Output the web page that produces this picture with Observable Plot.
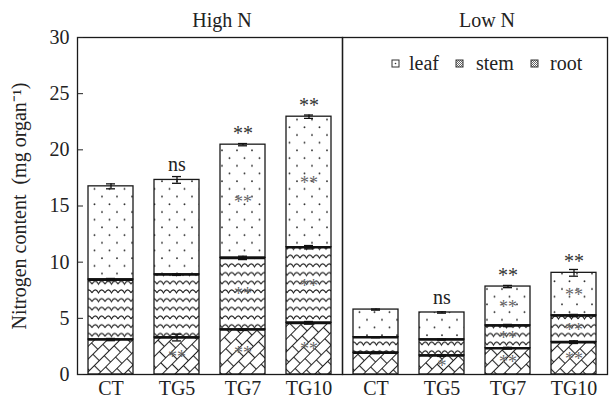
<!DOCTYPE html>
<html>
<head>
<meta charset="utf-8">
<script src="https://cdn.jsdelivr.net/npm/d3@7"></script>
<script src="https://cdn.jsdelivr.net/npm/@observablehq/plot@0.6"></script>
<style>
  body { margin: 0; background: #fff; }
  #wrap { position: relative; width: 610px; height: 401px; overflow: hidden; }
  #defs { position: absolute; width: 0; height: 0; }
  #legend { position: absolute; left: 0; top: 0; pointer-events: none; }
</style>
</head>
<body>
<svg id="defs" width="0" height="0">
  <defs>
    <pattern id="pLeaf" patternUnits="userSpaceOnUse" width="15" height="15.4">
      <circle cx="3.5" cy="4" r="0.95" fill="#333"/>
      <circle cx="11" cy="11.7" r="0.95" fill="#333"/>
    </pattern>
    <pattern id="pStem" patternUnits="userSpaceOnUse" width="13" height="8.7">
      <path d="M0,5.8 Q3.25,-0.2 6.5,5.8 Q9.75,-0.2 13,5.8" fill="none" stroke="#222" stroke-width="1.1"/>
    </pattern>
    <pattern id="pRoot" patternUnits="userSpaceOnUse" width="14" height="18" patternTransform="rotate(-45)">
      <path d="M0,0.5 H14 M0,9.5 H14 M3.5,0.5 V9.5 M10.5,9.5 V18.5" fill="none" stroke="#222" stroke-width="1.1"/>
    </pattern>
    <pattern id="pMini" patternUnits="userSpaceOnUse" width="2" height="2">
      <rect x="0" y="0" width="1" height="1" fill="#666"/>
      <rect x="1" y="1" width="1" height="1" fill="#666"/>
    </pattern>
  </defs>
</svg>
<div id="wrap"></div>
<script>
// ---- data ----
const levels = ["High N", "Low N"];
const treatments = ["CT", "TG5", "TG7", "TG10"];
const parts = ["leaf", "stem", "root"];
// organ N content (mg organ^-1), bars in order High N CT..TG10, Low N CT..TG10
const rootN = [3.11, 3.29, 4.00, 4.60, 1.93, 1.69, 2.34, 2.88];
const stemN = [5.34, 5.61, 6.38, 6.73, 1.39, 1.42, 2.02, 2.37];
const leafN = [8.30, 8.42, 10.08, 11.62, 2.46, 2.41, 3.47, 3.80];
// standard errors
const rootSE = [0.10, 0.30, 0.08, 0.12, 0.08, 0.08, 0.08, 0.12];
const stemSE = [0.10, 0.08, 0.15, 0.15, 0.05, 0.05, 0.10, 0.10];
const leafSE = [0.22, 0.30, 0.10, 0.15, 0.05, 0.06, 0.10, 0.30];
// significance marks
const rootSig = ["", "**", "**", "**", "", "*", "**", "**"];
const stemSig = ["", "", "**", "**", "", "", "**", "**"];
const leafSig = ["", "", "**", "**", "", "", "**", "**"];
const totalSig = ["", "ns", "**", "**", "", "ns", "**", "**"];
const yTicks = [0, 5, 10, 15, 20, 25, 30];
const yLabel = "Nitrogen content\u00a0 (mg organ\u207B\u00B9)";

// ---- build table ----
const segs = [];
const totals = [];
for (let i = 0; i < 8; i++) {
  const level = levels[Math.floor(i / 4)], trt = treatments[i % 4];
  const r = rootN[i], s = r + stemN[i], t = s + leafN[i];
  segs.push({level, trt, part: "root", y1: 0, y2: r, se: rootSE[i], sig: rootSig[i]});
  segs.push({level, trt, part: "stem", y1: r, y2: s, se: stemSE[i], sig: stemSig[i]});
  segs.push({level, trt, part: "leaf", y1: s, y2: t, se: leafSE[i], sig: leafSig[i]});
  totals.push({level, trt, t, top: t + leafSE[i], sig: totalSig[i]});
}
const fills = {leaf: "url(#pLeaf)", stem: "url(#pStem)", root: "url(#pRoot)"};
const common = {fx: "level", x: "trt"};
const FS = 20;

const chart = Plot.plot({
  width: 610,
  height: 401,
  marginTop: 37,
  marginBottom: 27,
  marginLeft: 76,
  marginRight: 3,
  style: {fontFamily: '"Liberation Serif", "Times New Roman", serif', fontSize: FS + "px", color: "#222", background: "#fff"},
  fx: {domain: levels, padding: 0, label: null},
  x: {domain: treatments, paddingInner: 0.32, paddingOuter: 0.16, label: null},
  y: {domain: [0, 30], label: yLabel},
  marks: [
    ...parts.map(p => Plot.barY(segs.filter(d => d.part === p), {
      ...common, y1: "y1", y2: "y2", fill: fills[p], stroke: "#1a1a1a", strokeWidth: 1.3
    })),
    Plot.tickY(segs.filter(d => d.part !== "leaf"), {...common, y: "y2", stroke: "#111", strokeWidth: 2.6}),
    // error bars
    Plot.ruleX(segs, {...common, y1: d => d.y2 - d.se, y2: d => d.y2 + d.se, stroke: "#111", strokeWidth: 1.3}),
    Plot.tickY(segs, {...common, y: d => d.y2 + d.se, insetLeft: 18, insetRight: 18, stroke: "#111", strokeWidth: 1.3}),
    Plot.tickY(segs, {...common, y: d => d.y2 - d.se, insetLeft: 18, insetRight: 18, stroke: "#111", strokeWidth: 1.3}),
    // inner significance
    Plot.text(segs.filter(d => d.sig), {...common, y: d => (d.y1 + d.y2) / 2, text: "sig", dy: 1, fill: "#666", fontSize: 18}),
    // top significance
    Plot.text(totals.filter(d => d.sig === "**"), {...common, y: "t", text: "sig", dy: -11, fill: "#333", fontSize: FS}),
    Plot.text(totals.filter(d => d.sig === "ns"), {...common, y: "t", text: "sig", dy: -15, fill: "#222", fontSize: FS}),
    Plot.frame({stroke: "#1a1a1a", strokeWidth: 1.3}),
    Plot.axisY(yTicks, {anchor: "left", tickSize: -6, tickPadding: 14, label: yLabel, labelAnchor: "center", labelOffset: 66, labelArrow: "none", fontSize: FS}),
    Plot.axisX({anchor: "bottom", tickSize: 0, tickPadding: 6, label: null, fontSize: FS}),
    Plot.axisFx({anchor: "top", tickSize: 0, tickPadding: 11, label: null, fontSize: FS, dx: 12})
  ]
});
const wrap = document.getElementById("wrap");
wrap.appendChild(chart);

// ---- legend (inside Low N panel) ----
const legendItems = [
  {name: "leaf", fill: "#fff", dot: true, sx: 392, tx: 409},
  {name: "stem", fill: "url(#pMini)", sx: 456, tx: 476},
  {name: "root", fill: "url(#pMini)", sx: 531, tx: 550}
];
const ns = "http://www.w3.org/2000/svg";
const lg = document.createElementNS(ns, "svg");
lg.setAttribute("id", "legend");
lg.setAttribute("width", 610);
lg.setAttribute("height", 401);
for (const it of legendItems) {
  const r = document.createElementNS(ns, "rect");
  r.setAttribute("x", it.sx); r.setAttribute("y", 60);
  r.setAttribute("width", 7); r.setAttribute("height", 7);
  r.setAttribute("fill", it.fill); r.setAttribute("stroke", "#333"); r.setAttribute("stroke-width", 1);
  lg.appendChild(r);
  if (it.dot) {
    const c = document.createElementNS(ns, "circle");
    c.setAttribute("cx", it.sx + 3.5); c.setAttribute("cy", 63.5); c.setAttribute("r", 0.8); c.setAttribute("fill", "#333");
    lg.appendChild(c);
  }
  const t = document.createElementNS(ns, "text");
  t.setAttribute("x", it.tx); t.setAttribute("y", 70);
  t.setAttribute("font-family", '"Liberation Serif", serif');
  t.setAttribute("font-size", FS); t.setAttribute("fill", "#222");
  t.textContent = it.name;
  lg.appendChild(t);
}
wrap.appendChild(lg);
</script>
</body>
</html>
